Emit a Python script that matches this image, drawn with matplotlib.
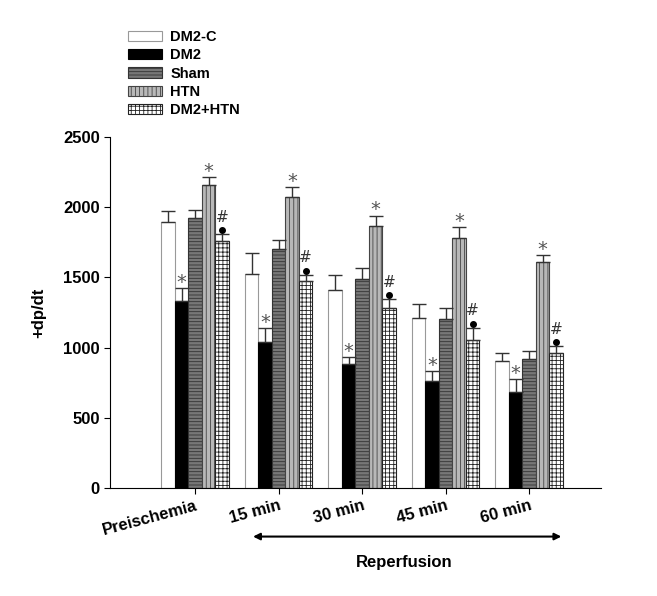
import matplotlib
matplotlib.use("Agg")
import matplotlib.pyplot as plt
import numpy as np

plt.rcParams['font.family'] = ['Liberation Sans', 'DejaVu Sans']
plt.rcParams['hatch.linewidth'] = 0.6

categories = ["Preischemia", "15 min", "30 min", "45 min", "60 min"]
groups = ["DM2-C", "DM2", "Sham", "HTN", "DM2+HTN"]
dm2c = [1892, 1522, 1410, 1213, 907]
dm2c_err = [83, 155, 105, 100, 55]
dm2 = [1332, 1042, 883, 764, 686]
dm2_err = [90, 100, 50, 70, 88]
sham = [1921, 1700, 1491, 1201, 919]
sham_err = [60, 70, 80, 83, 60]
htn = [2158, 2070, 1866, 1783, 1608]
htn_err = [60, 75, 75, 75, 52]
dm2htn = [1759, 1474, 1280, 1054, 959]
dm2htn_err = [50, 45, 65, 88, 52]

values = [dm2c, dm2, sham, htn, dm2htn]
errors = [dm2c_err, dm2_err, sham_err, htn_err, dm2htn_err]
faces = ["white", "black", "#777777", "#b8b8b8", "white"]
edges = ["#999999", "black", "#333333", "#444444", "#222222"]
hatches = [None, None, "-----", "||||", "++++"]

fig = plt.figure(figsize=(6.57, 5.96), dpi=100)
ax = fig.add_axes([0.1675, 0.181, 0.747, 0.589])

x = np.arange(len(categories))
w = 0.162
for i in range(5):
    pos = x + (i - 2) * w
    ax.bar(pos, values[i], w, color=faces[i], edgecolor=edges[i], linewidth=0.8,
           hatch=hatches[i], label=groups[i], zorder=2)
    ax.errorbar(pos, values[i], yerr=[np.zeros(5), errors[i]], fmt='none',
                ecolor='#333333', elinewidth=1.0, capsize=5, capthick=1.0, zorder=3)
    for j in range(5):
        top = values[i][j] + errors[i][j]
        if i in (1, 3):
            ax.text(pos[j], top + 40, "*", ha='center', va='center', fontsize=14,
                    color='#555555', family='DejaVu Sans')
        if i == 4:
            ax.plot(pos[j], top + 30, 'o', color='black', markersize=4, zorder=4)
            ax.text(pos[j], top + 120, "#", ha='center', va='center', fontsize=11,
                    color='#333333', family='DejaVu Sans')

ax.set_xlim(-1.02, 4.86)
ax.set_ylim(0, 2500)
ax.set_yticks([0, 500, 1000, 1500, 2000, 2500])
ax.set_xticks(x)
ax.set_xticklabels(categories, rotation=15, fontsize=12, fontweight='bold',
                   ha='right', rotation_mode='anchor')
ax.tick_params(axis='x', pad=3, length=4)
ax.tick_params(axis='y', labelsize=12, length=4)
for lbl in ax.get_yticklabels():
    lbl.set_fontweight('bold')
ax.spines['top'].set_visible(False)
ax.spines['right'].set_visible(False)
ax.set_ylabel("+dp/dt", fontsize=12, fontweight='bold', labelpad=12)

leg = fig.legend(loc='upper left', bbox_to_anchor=(0.175, 0.972), frameon=False,
                 prop={'weight': 'bold', 'size': 10.5}, handlelength=2.3,
                 handleheight=0.7, labelspacing=0.3, handletextpad=0.6)

ax.annotate("", xy=(4.42, -345), xytext=(0.66, -345), xycoords='data',
            arrowprops=dict(arrowstyle='<|-|>', color='black', lw=1.5,
                            mutation_scale=10), annotation_clip=False)
ax.text(2.5, -530, "Reperfusion", ha='center', va='center', fontsize=12,
        fontweight='bold')

fig.savefig("out.png", dpi=100)
